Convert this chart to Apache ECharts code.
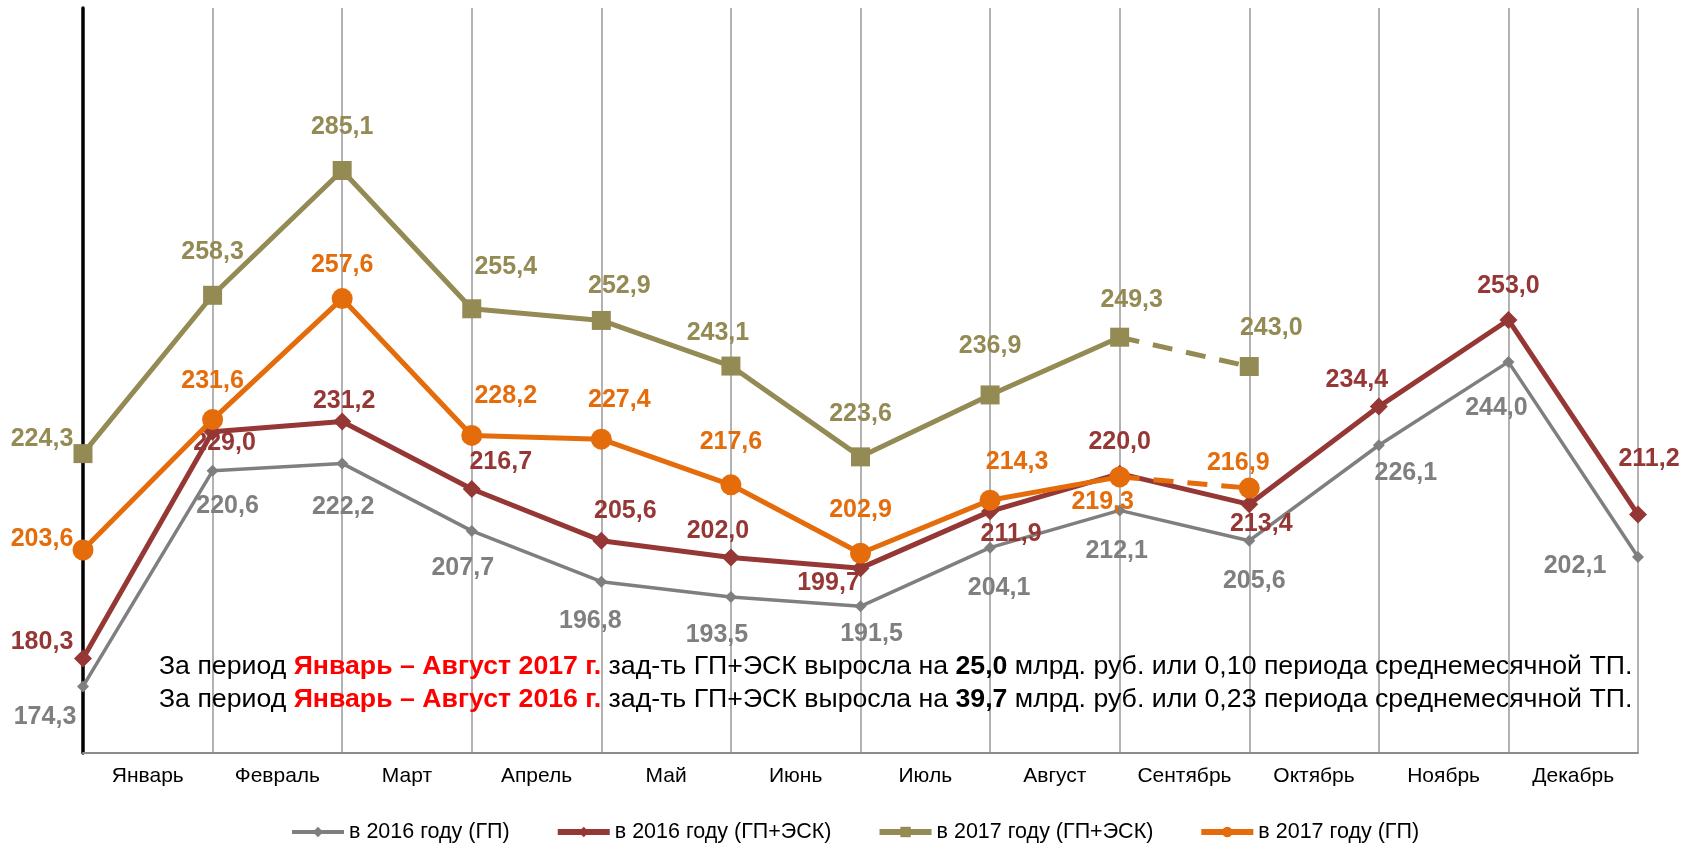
<!DOCTYPE html>
<html>
<head>
<meta charset="utf-8">
<script src="https://cdn.jsdelivr.net/npm/echarts@6/dist/echarts.min.js"></script>
<style>
html,body{margin:0;padding:0;background:#fff;}
#chart{width:1686px;height:844px;}
</style>
</head>
<body>
<div id="chart"></div>
<script>
// ---- data ----
const months = ['Январь','Февраль','Март','Апрель','Май','Июнь','Июль','Август','Сентябрь','Октябрь','Ноябрь','Декабрь'];
const pointDates = ['01.01','01.02','01.03','01.04','01.05','01.06','01.07','01.08','01.09','01.10','01.11','01.12','31.12'];
const seriesNames = ['в 2016 году (ГП)','в 2016 году (ГП+ЭСК)','в 2017 году (ГП+ЭСК)','в 2017 году (ГП)'];
const gp2016 = [174.3, 220.6, 222.2, 207.7, 196.8, 193.5, 191.5, 204.1, 212.1, 205.6, 226.1, 244.0, 202.1];
const gpEsk2016 = [180.3, 229.0, 231.2, 216.7, 205.6, 202.0, 199.7, 211.9, 220.0, 213.4, 234.4, 253.0, 211.2];
const gpEsk2017 = [224.3, 258.3, 285.1, 255.4, 252.9, 243.1, 223.6, 236.9, 249.3];
const gpEsk2017Next = 243.0;
const gp2017 = [203.6, 231.6, 257.6, 228.2, 227.4, 217.6, 202.9, 214.3, 219.3];
const gp2017Next = 216.9;

// ---- label placement (pixels, relative to point) ----
const offGray = [[-38,31],[15,35],[1,44],[-9,37],[-11,39],[-14,38],[11,28],[9,40],[-3,41],[5,40],[27,28],[-12,46],[-63,9]];
const offRed = [[-41,-16],[12,11],[2,-20],[29,-27],[24,-30],[-13,-26],[-32,15],[21,23],[0,-32],[12,20],[-22,-26],[0,-34],[11,-55]];
const offOlive = [[-41,-14],[0,-43],[0,-43],[34,-42],[18,-34],[-13,-33],[0,-43],[0,-49],[12,-37]];
const offOliveNext = [22,-38];
const offOrange = [[-41,-11],[0,-39],[0,-33],[34,-39],[18,-39],[0,-43],[0,-43],[27,-38],[-17,25]];
const offOrangeNext = [-11,-25];

const C_GRAY = '#7F7F7F', C_RED = '#953735', C_OLIVE = '#948A54', C_ORANGE = '#E46C0A';
const FONT = '"Liberation Sans", Arial, sans-serif';

function fmt(p){ return Number(p.value).toFixed(1).replace('.', ','); }
function lbl(color){ return {show:true, position:'inside', formatter:fmt, color:color, fontSize:25, fontWeight:'bold', fontFamily:FONT}; }
function items(vals, offs){ return vals.map((v,i)=>({value:v, label:{offset:offs[i]}})); }
function nextItems(lastVal, nextVal, idx, off){
  const arr = pointDates.map(()=>null);
  arr[idx] = {value:lastVal, symbol:'none', label:{show:false}};
  arr[idx+1] = {value:nextVal, label:{offset:off}};
  return arr;
}
const richA = {fontSize:26.7, fontFamily:FONT, fill:'#000', color:'#000'};
const richR = {fontSize:26.7, fontFamily:FONT, fontWeight:'bold', fill:'#FF0000', color:'#FF0000'};
const richB = {fontSize:26.7, fontFamily:FONT, fontWeight:'bold', fill:'#000', color:'#000'};

const chart = echarts.init(document.getElementById('chart'), null, {renderer:'canvas'});
const option = {
  animation:false,
  backgroundColor:'#fff',
  grid:{left:83, right:48, top:8, bottom:91},
  xAxis:[
    {type:'category', data:months, boundaryGap:true,
     axisLine:{show:true, lineStyle:{color:'#8c8c8c', width:2}},
     axisTick:{show:false},
     axisLabel:{color:'#000', fontSize:21, fontFamily:FONT, margin:13},
     splitLine:{show:true, lineStyle:{color:'#999', width:1.5}}},
    {type:'category', data:pointDates, boundaryGap:false, show:false}
  ],
  yAxis:{type:'value', min:160, max:320,
    axisLine:{show:true, lineStyle:{color:'#000', width:3.5}},
    axisLabel:{show:false}, axisTick:{show:false}, splitLine:{show:false}},
  legend:{
    data:[
      {name:seriesNames[0], lineStyle:{width:4}},
      {name:seriesNames[1], lineStyle:{width:6}},
      {name:seriesNames[2], lineStyle:{width:6}},
      {name:seriesNames[3], lineStyle:{width:6}}
    ],
    top:816, left:285,
    itemWidth:52, itemHeight:13, itemGap:45,
    lineStyle:{width:6},
    textStyle:{color:'#000', fontSize:21.5, fontFamily:FONT}
  },
  series:[
    {name:seriesNames[0], type:'line', xAxisIndex:1, data:items(gp2016, offGray),
     color:C_GRAY, lineStyle:{width:3.5, color:C_GRAY}, symbol:'diamond', symbolSize:12,
     itemStyle:{color:C_GRAY}, label:lbl(C_GRAY), z:2},
    {name:seriesNames[1], type:'line', xAxisIndex:1, data:items(gpEsk2016, offRed),
     color:C_RED, lineStyle:{width:5, color:C_RED}, symbol:'diamond', symbolSize:18,
     itemStyle:{color:C_RED}, label:lbl(C_RED), z:3},
    {name:seriesNames[2], type:'line', xAxisIndex:1, data:items(gpEsk2017, offOlive),
     color:C_OLIVE, lineStyle:{width:5, color:C_OLIVE}, symbol:'rect', symbolSize:19,
     itemStyle:{color:C_OLIVE}, label:lbl(C_OLIVE), z:4},
    {name:seriesNames[2], type:'line', xAxisIndex:1, data:nextItems(gpEsk2017[8], gpEsk2017Next, 8, offOliveNext),
     color:C_OLIVE, lineStyle:{width:5, color:C_OLIVE, type:[20,14]}, symbol:'rect', symbolSize:19,
     itemStyle:{color:C_OLIVE}, label:lbl(C_OLIVE), z:4},
    {name:seriesNames[3], type:'line', xAxisIndex:1, data:items(gp2017, offOrange),
     color:C_ORANGE, lineStyle:{width:5, color:C_ORANGE}, symbol:'circle', symbolSize:21,
     itemStyle:{color:C_ORANGE}, label:lbl(C_ORANGE), z:5},
    {name:seriesNames[3], type:'line', xAxisIndex:1, data:nextItems(gp2017[8], gp2017Next, 8, offOrangeNext),
     color:C_ORANGE, lineStyle:{width:5, color:C_ORANGE, type:[20,14]}, symbol:'circle', symbolSize:21,
     itemStyle:{color:C_ORANGE}, label:lbl(C_ORANGE), z:5}
  ],
  graphic:[
    {type:'text', left:159, top:653, z:10, style:{
      text:'{a|За период }{r|Январь – Август 2017 г.}{a| зад-ть ГП+ЭСК выросла на }{b|25,0}{a| млрд. руб. или 0,10 периода среднемесячной ТП.}',
      rich:{a:richA, r:richR, b:richB}
    }},
    {type:'text', left:159, top:686, z:10, style:{
      text:'{a|За период }{r|Январь – Август 2016 г.}{a| зад-ть ГП+ЭСК выросла на }{b|39,7}{a| млрд. руб. или 0,23 периода среднемесячной ТП.}',
      rich:{a:richA, r:richR, b:richB}
    }}
  ]
};
chart.setOption(option);
</script>
</body>
</html>
